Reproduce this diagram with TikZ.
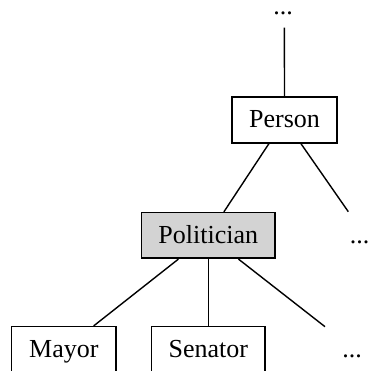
\documentclass[tikz,border=0pt]{standalone}
\usepackage{fontspec}
\setmainfont{Liberation Serif}
\definecolor{classfill}{RGB}{211,211,211}
\begin{document}
\begin{tikzpicture}[x=1pt,y=1pt,
  font=\fontsize{26}{30}\selectfont,
  classbox/.style={draw, line width=1.6pt, inner sep=0pt, minimum height=45.6pt,
    text height=20.2pt, text depth=5pt, align=center},
  link/.style={line width=1.4pt},
  dots/.style={inner sep=0pt, anchor=base, text height=3pt, text depth=0pt}]
  \useasboundingbox (0,0) rectangle (368,371);
  \clip (0,0) rectangle (368,371);

  % class boxes
  \node[classbox, minimum width=105pt] (person) at (284.5,251) {Person};
  \node[classbox, minimum width=133.3pt, fill=classfill] (politician) at (208.3,135.5) {Politician};
  \node[classbox, minimum width=104.3pt] (mayor) at (63.8,21.5) {Mayor};
  \node[classbox, minimum width=113.3pt] (senator) at (208.3,21.5) {Senator};

  % elided parts of the hierarchy
  \node[dots] (topdots) at (283,356.5) {...};
  \node[dots] (sidedots) at (359.5,127.5) {...};
  \node[dots] (subdots) at (352,13.6) {...};

  % open ends of the connectors
  \coordinate (up) at (284.4,343.3);
  \coordinate (side) at (348.3,159.3);
  \coordinate (sub) at (325,44.3);

  % connectors
  \draw[link] (person) -- (up);
  \draw[link] (person) -- (politician);
  \draw[link] (person) -- (side);
  \draw[link] (politician) -- (mayor);
  \draw[link] (politician) -- (senator);
  \draw[link] (politician) -- (sub);
\end{tikzpicture}
\end{document}
